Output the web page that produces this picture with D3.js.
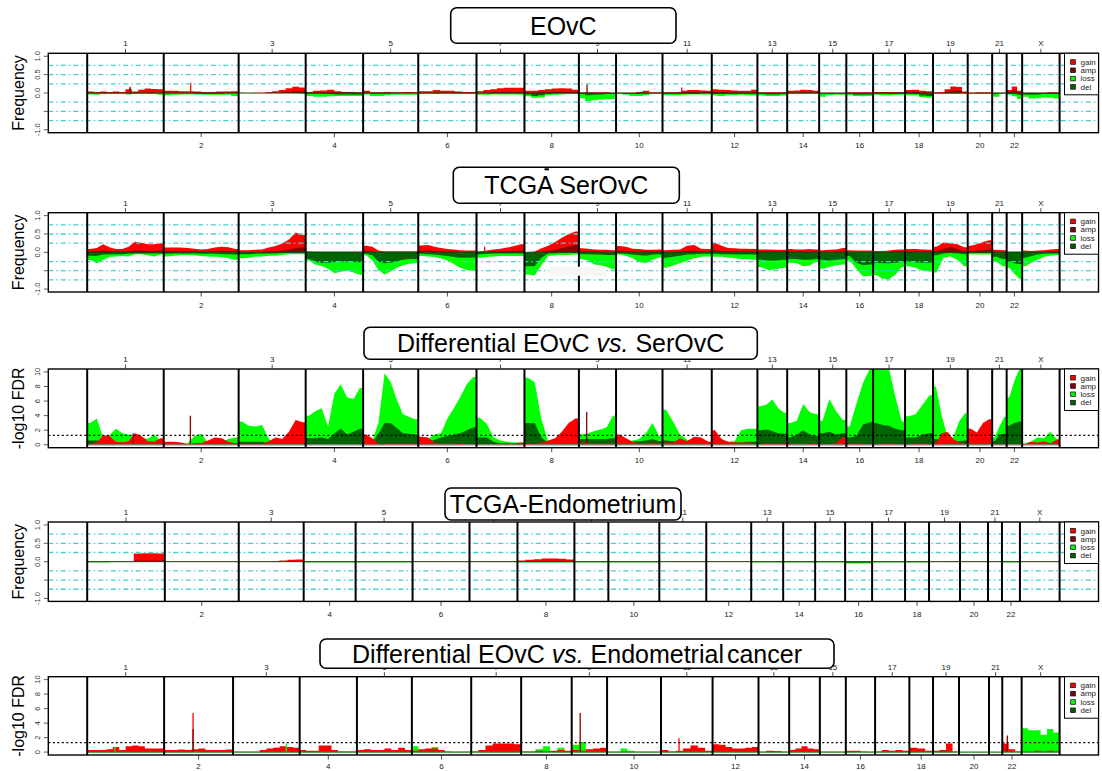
<!DOCTYPE html>
<html>
<head>
<meta charset="utf-8">
<script src="https://cdn.jsdelivr.net/npm/d3@7"></script>
<style>
body { margin: 0; background: #fff; }
svg { font-family: "Liberation Sans", Arial, Helvetica, sans-serif; }
</style>
</head>
<body>
<svg id="chart" width="1102" height="771"></svg>
<script>
// chromosome names, and relative widths (probe counts) of each chromosome in the three layouts
const chromNames = ["1","2","3","4","5","6","7","8","9","10","11","12","13","14","15","16","17","18","19","20","21","22","X"];
const sizesSer = [766,750,671,575,552,583,480,545,372,465,493,457,298,320,272,268,320,280,347,245,145,155,375];
const sizesEndo = [777,740,650,520,570,570,480,570,340,510,470,450,320,320,300,270,330,240,310,280,140,180,397];
const sizesDiffEndo = [770,690,667,573,550,594,500,506,354,540,516,460,307,307,260,293,343,237,260,300,133,194,380];

// EOvC frequencies (percent), one array per chromosome
const eovcGain = [[4,3,4,3,4,3,10,4,9,12,11,10],[6,6,5,5,4,3,3,4,4,5],[1,0,1,1,3,5,8,13,17,15],[3,6,7,9,5,3,3,2],[6,2,2,3,2,2,3,2],[5,5,8,6,6,4,3,3],[5,8,10,13,14,14,14],[6,6,8,10,12,13,12,9],[2,2,2,2,2,1],[1,1,1,3,6,2,2],[2,2,3,6,8,8,7,6],[10,9,8,7,6,6,9],[2,2,2,2],[6,7,9,8,6],[1,1,1,1],[2,2,2,2],[3,3,3,3,3],[8,9,6,5],[2,3,10,18,16,4],[1,2,2],[1,1],[8,18,6],[1,1,1,1,2,2]];
const eovcAmp = [[1],[1],[0,0,0,0,0,0,1,2,5,4],[1],[1],[1],[1,1,2,3,3,3,3],[1,1,2,2,3,3,3,2],[0],[0],[1,1,1,2,3,3,2,2],[2],[0],[1,1,2,2,1],[0],[0],[1],[2,3,1,1],[0,0,3,7,6,0],[0],[0],[3,7,2],[0]];
const eovcLoss = [[4,5,3,2,3,2,4,3,2,2,3,5],[6,5,4,4,4,5,5,5,5,8],[1,1,1,1,1,1,1,1,1,2],[8,10,10,9,8,8,8,8],[4,8,8,6,5,5,5,5],[3,2,3,2,2,3,3,2],[5,5,4,4,4,4,5],[9,13,12,6,5,4,3,3],[14,22,20,18,17,16],[3,5,8,8,6,3,2],[6,6,6,5,4,4,4,4],[7,8,6,6,5,6,7],[7,8,8,7],[3,2,2,2,2],[10,6,5,5],[6,8,9,8],[5,6,6,5,5],[6,6,11,13],[2,2,2,2,2,2],[3,3,3],[10,3],[5,9,16],[10,15,14,12,13,15]];
const eovcDel = [[1,1,1,1,1,1,2,1,1,1,1,1],[1,1,1,1,2,2,2,2,1,1],[0],[2,2,2,3,4,4,4,4],[1,2,2,2,1,1,1,1],[1],[1],[4,8,6,2,1,1,1,1],[3,6,5,4,3,3],[1,2,3,3,2,1,1],[2,2,2,2,2,2,1,1],[3,3,2,2,2,2,2],[3,4,4,3],[1],[2,2,2,2],[3,5,5,4],[2,2,2,2,2],[2,3,7,8],[1],[1],[2,1],[2,3,5],[4,5,4,3,3,3]];
// narrow peaks: [chromosome, position within chromosome, series, value]
const eovcSpikes = [["1",0.56,"gain",17],["1",0.56,"amp",14],["2",0.36,"gain",28],["9",0.22,"amp",23],["11",0.39,"gain",15]];

// TCGA SerOvC frequencies (percent)
const serGain = [[9,12,22,14,9,9,15,29,26,22,22,25],[13,13,13,12,10,8,9,13,15,14,9],[6,6,7,8,13,17,24,35,54,47],[3,2,2,2,2,2,2,2,2],[18,15,5,3,3,3,3,3,3],[19,20,15,12,9,8,6,5,5],[3,5,8,10,13,17,22],[1,2,11,18,28,40,50,57],[11,10,8,7,7,6],[17,15,10,9,7,7,8],[6,7,8,18,20,10,9],[26,18,12,11,10,10,9],[8,8,7,7],[9,8,8,9,8],[6,7,8,12],[6,5,5,5],[4,4,5,7,8],[9,9,8,7],[15,27,25,22,14],[18,22,28,33],[7,6],[2,2,2],[5,4,5,6,8,9]];
const serAmp = [[2,3,5,3,2,2,3,5,5,4,4,5],[3,3,3,3,3,2,2,3,4,4,3],[1,1,1,1,2,3,5,8,12,14],[1],[4,3,1,1,1,1,1,1,1],[4,5,4,3,2,2,1,1,1],[1,1,2,2,3,4,5],[0,0,2,4,7,12,16,20],[2,2,2,1,1,1],[4,3,2,2,2,2,2],[1,1,2,4,5,2,2],[6,4,3,3,2,2,2],[2],[2],[1,1,2,3],[1],[1,1,1,2,2],[2],[3,10,14,10,3],[3,5,6,8],[1],[0],[1,1,1,1,2,2]];
const serLoss = [[21,30,20,13,11,10,11,5,5,8,11,6],[11,9,7,7,8,10,11,12,13,16,20],[16,15,12,11,9,9,7,5,5,5],[22,33,37,45,57,53,50,55,61],[8,22,48,60,52,42,35,31,30],[10,11,13,16,22,32,42,48,50],[15,13,11,10,10,10,10],[60,63,35,10,8,7,7,6],[18,22,33,35,40,46],[6,9,16,26,30,20,14],[42,36,30,22,16,12,11],[12,12,14,16,18,18,20],[40,48,46,42],[28,30,38,36,26],[45,40,35,33],[22,45,66,64],[62,72,73,60,40],[38,42,50,52],[55,15,11,20,38],[5,6,6,6],[25,38],[42,58,72],[38,28,20,12,9,7]];
const serDel = [[9,10,6,5,5,5,4,3,3,3,3,3],[4,3,3,3,3,4,4,4,5,5,6],[5,5,4,4,3,3,2,2,2,2],[18,25,28,28,26,25,25,26,27],[4,8,25,30,28,24,20,18,18],[4,5,6,8,10,13,15,15,14],[5,4,3,3,3,3,3],[38,38,15,3,3,2,2,2],[5,5,6,6,7,7],[3,4,6,8,9,6,5],[15,12,9,6,5,4,4],[4,5,5,6,6,6,6],[20,22,22,20],[18,18,20,20,18],[20,22,20,18],[10,28,35,33],[28,30,30,28,26],[25,27,28,28],[8,3,2,3,5],[2,2,2,2],[12,18],[25,30,32],[15,10,6,4,3,3]];
const serSpikes = [["7",0.17,"gain",15]];

// Differential EOvC vs SerOvC (-log10 FDR)
const diffSerGain = [[0.1,0.3,1.3,1.2,0.4,0.3,0.5,1.6,1.2,0.5,0.4,0.9],[0.4,0.4,0.3,0.1,0.1,0.2,0.6,1.0,0.9,0.4,0.2],[0.1,0.1,0.1,0.1,0.5,1.0,0.8,1.8,3.4,3.1],[0,0,0,0,0,0,0,0,0.1],[1.4,0.9,0.1,0.1,0.1,0.1,0.1,0.1,0.1],[1.1,1.0,0.3,0.2,0.2,0.2,0.1,0.1,0.1],[0.05,0.05,0.05,0.1,0.1,0.2,0.3],[0.1,0.1,0.3,0.6,0.9,1.8,3.0,3.6],[0.3,0.2,0.2,0.2,0.2,0.2],[1.4,0.9,0.4,0.2,0.2,0.3,0.2],[0.3,0.3,0.9,0.5,1.1,1.0,0.4],[2.0,0.8,0.4,0.3,0.3,0.3,0.2],[0.1],[0.1,0.2,0.2,0.1,0.1],[0.1,0.1,0.2,1.0],[0.1],[0.1],[0.1],[0.2,1.6,1.8,0.8,0.3,0.2],[2.2,1.7,3.0,3.5],[0.1],[0.1],[0.1,0.4,0.3,0.5,0.2,0.7]];
const diffSerLoss = [[3.0,3.6,1.0,1.3,2.2,1.6,1.4,1.2,1.0,0.8,1.4,0.6],[0.1,0.1,0.1,0.2,1.2,1.5,0.3,0.2,0.3,0.8,1.0],[3.2,2.6,2.5,2.7,0.8,0.3,0.3,0.3,0.3,0.3],[4.0,4.6,5.0,2.5,7.0,8.3,6.5,6.3,7.8],[0.5,0.6,3.0,9.8,8.6,6.2,4.2,3.8,3.5],[0.5,0.8,1.4,1.6,3.6,5.0,6.6,8.3,9.3],[3.7,2.9,1.0,0.6,0.4,0.3,0.3],[9.2,8.6,3.5,0.4,0.2,0.2,0.3,0.3],[1.4,1.6,1.9,2.1,2.4,4.0],[0.2,0.4,0.6,0.8,1.6,3.0,1.2],[4.8,3.2,1.4,0.7,0.5,0.4,0.4],[0.3,0.3,0.4,0.5,2.0,2.2,2.2],[5.3,5.5,6.2,5.0,4.4],[3.0,3.3,5.6,4.5,4.2],[3.3,6.3,4.6,3.4],[2.5,5.6,8.5,10.4],[10.4,10.4,10.4,6.5,3.2],[3.9,4.2,5.5,6.8],[8.0,4.0,1.2,1.0,3.2,4.3],[0.1],[1.0,2.5,3.8],[6.5,8.8,10.4],[0.2,0.5,1.0,0.9,1.8,0.8]];
const diffSerDel = [[0.6,0.6,0.3,0.3,0.3,0.3,0.3,0.3,0.3,0.2,0.3,0.2],[0.1,0.1,0.1,0.1,0.2,0.2,0.1,0.1,0.1,0.2,0.2],[0.4,0.4,0.4,0.4,0.2,0.1,0.1,0.2,0.2,0.2],[0.9,0.9,1.0,0.8,1.6,2.2,1.4,1.8,2.2],[0.2,0.3,1.5,3.0,3.0,2.3,1.6,1.5,1.4],[0.3,0.3,0.7,1.0,1.2,1.4,1.6,2.0,2.4],[1.0,1.0,0.4,0.2,0.2,0.1,0.1],[3.0,3.0,1.0,0.2,0.2,0.2,0.2,0.2],[0.8,0.8,0.8,0.8,0.8,0.9],[0.3,0.3,0.4,0.5,0.6,0.8,0.5],[0.6,0.5,0.4,0.3,0.3,0.3,0.3],[0.2,0.2,0.3,0.3,0.3,0.4,0.4],[2.0,2.1,1.9,1.6,1.5],[1.0,1.4,2.0,1.4,1.2],[1.6,1.8,1.4,1.6],[1.0,1.2,2.8,3.1],[3.0,2.7,2.6,2.2,2.0],[1.0,1.0,1.4,1.6],[0.8,0.5,0.4,0.4,0.5,0.6],[0.1],[0.5,1.4,1.5],[2.6,3.0,3.2],[0.1]];
const diffSerSpikes = [["1",0.6,"amp",1.6],["2",0.356,"amp",4.0],["9",0.21,"amp",4.5]];

// TCGA Endometrium frequencies (percent)
const endoGain = [[1,1,1,1,1,1,22,23,23,22],[1],[1,1,1,1,2,3,5,6],[1],[1],[1],[1,1,2,2,2,2,2],[3,5,7,9,9,8,6],[1],[1],[1,1,2,2,2,2,2],[1],[1],[1],[1],[1],[1],[1],[1,1,2,2],[1],[1],[1],[1]];
const endoAmp = [[0,0,0,0,0,0,3,3,3,3],[0],[0],[0],[0],[0],[0],[0,1,1,2,2,1,1],[0],[0],[0],[0],[0],[0],[0],[0],[0],[0],[0],[0],[0],[0],[0]];
const endoLoss = [[2,2,2,1,1,1,1,1,1,1],[1],[1],[2],[2],[1],[1],[2],[2],[2],[1],[1],[2],[2],[2],[5,5,5],[2],[2],[1],[1],[1],[2],[1]];
const endoDel = [[1],[0],[0],[1],[1],[0],[0],[1],[1],[1],[0],[0],[1],[1],[1],[2],[1],[1],[0],[0],[0],[1],[0]];

// Differential EOvC vs Endometrial cancer (-log10 FDR)
const diffEndoGain = [[0.3,0.3,0.3,0.4,0.7,0.3,0.8,0.9,0.8,0.5,0.5,0.5],[0.3,0.3,0.35,0.3,0.4,0.5,0.3,0.3,0.3,0.35],[0.05,0.05,0.05,0.05,0.3,0.5,0.6,0.8,0.7,0.6],[0.3,0.2,0.2,0.9,0.9,0.3,0.1,0.1,0.1],[0.3,0.4,0.3,0.3,0.5,0.3,0.6,0.3],[0.2,0.4,0.5,0.5,0.3,0.1,0.05,0.05,0.05],[0.1,0.3,0.9,1.2,1.2,1.2,1.1],[0.1,0.1,0.2,0.1,0.2,0.3,0.2],[0.3,0.2,0.4,0.5,0.6],[0.05],[0.3,0.1,0.2,0.5,0.9,0.6,0.2],[1.1,1.0,0.7,0.5,0.5,0.6,0.7],[0.05,0.2,0.15,0.05],[0.3,0.5,0.8,0.5,0.4],[0.05],[0.2,0.2,0.1,0.05],[0.1,0.3,0.2,0.3,0.2],[0.6,0.5,0.2],[0.2,0.3,1.2,0.1],[0.02],[0.02],[1.2,0.4,0.1],[0.05,0.05,0.2,0.1,0.2,0.1]];
const diffEndoLoss = [[0],[0],[0],[0],[0],[0.8,0.3,0.2,0.7,0.1,0,0,0,0],[0],[0,0,0.4,0.8,0.1,0.6,0.1],[1.0,1.4,0.1,0,0],[0,0,0.5,0.2,0,0,0,0],[0],[0],[0],[0],[0],[0],[0],[0],[0],[0],[0],[0],[3.3,3.0,3.0,2.4,3.2,2.7]];
const diffEndoSpikes = [["1",0.36,"loss",0.7],["2",0.42,"gain",5.4],["2",0.42,"amp",3.2],["3",0.8,"loss",1.2],["9",0.24,"amp",5.4],["11",0.35,"gain",1.9],["22",0.26,"amp",2.3]];

const freqTicks = [-1, -0.5, 0, 0.5, 1];
const freqTickLabels = {"1": "1.0", "0.5": "0.5", "0": "0.0", "-1": "-1.0"};
const fdrTicks = [0, 2, 4, 6, 8, 10];
const fdrCutoff = 1.3;
const legendKeys = ["gain", "amp", "loss", "del"];

const colors = { gain: "#ff0000", amp: "#8b0000", loss: "#00ff00", del: "#006400" };
const svg = d3.select("#chart");
const X0 = 48.3, X1 = 1098.5;

function drawPanel(p) {
  const total = d3.sum(p.sizes);
  const pad = total * 0.04;
  const x = d3.scaleLinear().domain([-pad, total + pad]).range([X0, X1]);
  const y = d3.scaleLinear().domain(p.ydomain).range([p.bottom, p.top]);
  const starts = [0].concat(Array.from(d3.cumsum(p.sizes)));
  const g = svg.append("g");

  g.append("clipPath").attr("id", p.id + "clip")
    .append("rect").attr("x", X0).attr("y", p.top).attr("width", X1 - X0).attr("height", p.bottom - p.top);
  const dg = g.append("g").attr("clip-path", "url(#" + p.id + "clip)");

  // profiles
  p.series.forEach(s => {
    const curve = s.linear ? d3.curveLinear : d3.curveStepAfter;
    const area = d3.area()
      .x(d => x(d[0]))
      .y0(y(0))
      .y1(d => y(s.sign * d[1] * p.unit))
      .curve(curve);
    s.values.forEach((vals, c) => {
      const x0 = starts[c], w = p.sizes[c], n = vals.length;
      let pts;
      if (s.linear && n > 1) {
        pts = [[x0, vals[0]]].concat(vals.map((v, i) => [x0 + w * (i + 0.5) / n, v]), [[x0 + w, vals[n - 1]]]);
      } else {
        pts = vals.map((v, i) => [x0 + w * i / n, v]).concat([[x0 + w, vals[n - 1]]]);
      }
      dg.append("path").attr("d", area(pts)).attr("fill", colors[s.key]);
    });
  });

  // narrow peaks
  p.spikes.forEach(sp => {
    const c = chromNames.indexOf(sp[0]);
    const sign = p.unit < 1 && (sp[2] === "loss" || sp[2] === "del") ? -1 : 1;
    const xx = x(starts[c] + p.sizes[c] * sp[1]);
    dg.append("line")
      .attr("x1", xx).attr("x2", xx)
      .attr("y1", y(0)).attr("y2", y(sign * sp[3] * p.unit))
      .attr("stroke", colors[sp[2]]).attr("stroke-width", 1.3);
  });

  // zero line
  g.append("line")
    .attr("x1", x(0)).attr("x2", x(total))
    .attr("y1", y(0)).attr("y2", y(0))
    .attr("stroke", p.baseColor).attr("stroke-width", p.baseWidth);

  // reference lines
  if (p.freq) {
    [0.75, 0.5, 0.25, -0.25, -0.5, -0.75].forEach(v => {
      g.append("line")
        .attr("x1", X0).attr("x2", X1).attr("y1", y(v)).attr("y2", y(v))
        .attr("stroke", "#40d0d0").attr("stroke-width", 1.3)
        .attr("stroke-dasharray", "5,3,1.5,3");
    });
  } else {
    g.append("line")
      .attr("x1", X0).attr("x2", X1).attr("y1", y(fdrCutoff)).attr("y2", y(fdrCutoff))
      .attr("stroke", "#000").attr("stroke-width", 1.2)
      .attr("stroke-dasharray", "2,2.5");
  }

  // chromosome boundaries
  starts.forEach(s => {
    g.append("line")
      .attr("x1", x(s)).attr("x2", x(s)).attr("y1", p.top).attr("y2", p.bottom)
      .attr("stroke", "#000").attr("stroke-width", 2);
  });

  if (p.extra) p.extra(g, x, y);

  // frame
  g.append("rect")
    .attr("x", X0).attr("y", p.top).attr("width", X1 - X0).attr("height", p.bottom - p.top)
    .attr("fill", "none").attr("stroke", "#000").attr("stroke-width", 1.4);

  // y axis
  const ticks = p.freq ? freqTicks : fdrTicks;
  ticks.forEach(t => {
    g.append("line").attr("x1", 43.8).attr("x2", X0).attr("y1", y(t)).attr("y2", y(t))
      .attr("stroke", "#333").attr("stroke-width", 0.8);
    const lab = p.freq ? freqTickLabels[String(t)] : String(t);
    if (lab !== undefined) {
      g.append("text")
        .attr("transform", "translate(40," + y(t) + ") rotate(-90)")
        .attr("text-anchor", "middle").attr("font-size", 7.5).attr("fill", "#333")
        .text(lab);
    }
  });
  g.append("text")
    .attr("transform", "translate(24," + ((p.top + p.bottom) / 2) + ") rotate(-90)")
    .attr("text-anchor", "middle").attr("font-size", 16).attr("fill", "#000")
    .text(p.ylabel);

  // chromosome labels, odd on top, even below
  const below = p.belowGap || 15.6;
  chromNames.forEach((name, c) => {
    const xc = x(starts[c] + p.sizes[c] / 2);
    const topSide = c % 2 === 0;
    g.append("line").attr("x1", xc).attr("x2", xc)
      .attr("y1", topSide ? p.top - 4.5 : p.bottom).attr("y2", topSide ? p.top : p.bottom + 4.5)
      .attr("stroke", "#222").attr("stroke-width", 0.8);
    g.append("text")
      .attr("x", xc).attr("y", topSide ? p.top - 7 : p.bottom + below)
      .attr("text-anchor", "middle").attr("font-size", 8).attr("fill", "#222")
      .text(name);
  });

  // legend
  const lg = g.append("g").attr("transform", "translate(1064.5," + p.top + ")");
  lg.append("rect").attr("width", X1 - 1064.5).attr("height", 41.5)
    .attr("fill", "#fff").attr("stroke", "#000").attr("stroke-width", 1);
  legendKeys.forEach((k, i) => {
    const yy = 8.7 + i * 8.3;
    lg.append("rect").attr("x", 6.2).attr("y", yy - 2.3).attr("width", 4.6).attr("height", 4.6)
      .attr("fill", colors[k]).attr("stroke", "#000").attr("stroke-width", 0.7);
    lg.append("text").attr("x", 16).attr("y", yy + 2.8).attr("font-size", 8).attr("fill", "#222").text(k);
  });

  // title box
  const tb = p.titleBox;
  g.append("rect").attr("x", tb[0]).attr("y", tb[1]).attr("width", tb[2] - tb[0]).attr("height", tb[3] - tb[1])
    .attr("rx", 6).attr("fill", "#fff").attr("stroke", "#000").attr("stroke-width", 1.6);
  const tt = g.append("text").attr("x", (tb[0] + tb[2]) / 2).attr("y", (tb[1] + tb[3]) / 2 + 9)
    .attr("text-anchor", "middle").attr("font-size", 25).attr("fill", "#000");
  p.title.forEach(part => {
    const ts = tt.append("tspan").text(part.t);
    if (part.italic) ts.attr("font-style", "italic");
    if (part.dx) ts.attr("dx", part.dx);
  });
}

drawPanel({
  id: "p1", top: 53.3, bottom: 132.7, freq: true, unit: 0.01, ydomain: [-1.08, 1.08],
  sizes: sizesSer, ylabel: "Frequency", baseColor: "#1a3a1a", baseWidth: 0.9,
  titleBox: [450.7, 7.7, 676, 43.3], title: [{ t: "EOvC" }],
  series: [
    { key: "gain", sign: 1, values: eovcGain }, { key: "amp", sign: 1, values: eovcAmp },
    { key: "loss", sign: -1, values: eovcLoss }, { key: "del", sign: -1, values: eovcDel }],
  spikes: eovcSpikes
});

drawPanel({
  id: "p2", top: 212.7, bottom: 292, freq: true, unit: 0.01, ydomain: [-1.08, 1.08],
  sizes: sizesSer, ylabel: "Frequency", baseColor: "#1a3a1a", baseWidth: 0.9,
  titleBox: [453.3, 167.3, 679.3, 203.3], title: [{ t: "TCGA SerOvC" }],
  series: [
    { key: "gain", sign: 1, values: serGain, linear: true }, { key: "amp", sign: 1, values: serAmp, linear: true },
    { key: "loss", sign: -1, values: serLoss, linear: true }, { key: "del", sign: -1, values: serDel, linear: true }],
  spikes: serSpikes,
  extra: (g) => {
    g.append("rect").attr("x", 549).attr("y", 266.7).attr("width", 57.7).attr("height", 9)
      .attr("fill", "#f6f6f6");
  }
});
svg.append("rect").attr("x", 544.5).attr("y", 168.3).attr("width", 4.5).attr("height", 2).attr("fill", "#000");

drawPanel({
  id: "p3", top: 369, bottom: 447.7, freq: false, unit: 1, ydomain: [-0.4, 10.4],
  sizes: sizesSer, ylabel: "-log10 FDR", baseColor: "#888", baseWidth: 1.2,
  titleBox: [364, 327.3, 757.3, 359.3],
  title: [{ t: "Differential EOvC " }, { t: "vs.", italic: true }, { t: " SerOvC" }],
  series: [
    { key: "loss", sign: 1, values: diffSerLoss, linear: true }, { key: "del", sign: 1, values: diffSerDel, linear: true },
    { key: "gain", sign: 1, values: diffSerGain, linear: true }],
  spikes: diffSerSpikes
});

drawPanel({
  id: "p4", top: 522, bottom: 601.4, freq: true, unit: 0.01, ydomain: [-1.08, 1.08],
  sizes: sizesEndo, ylabel: "Frequency", baseColor: "#1a3a1a", baseWidth: 0.9,
  titleBox: [445, 488, 681, 520], title: [{ t: "TCGA-Endometrium" }],
  series: [
    { key: "gain", sign: 1, values: endoGain }, { key: "amp", sign: 1, values: endoAmp },
    { key: "loss", sign: -1, values: endoLoss }, { key: "del", sign: -1, values: endoDel }],
  spikes: []
});

drawPanel({
  id: "p5", top: 676.7, bottom: 755, freq: false, unit: 1, ydomain: [-0.4, 10.4],
  sizes: sizesDiffEndo, ylabel: "-log10 FDR", baseColor: "#1c8a1c", baseWidth: 1.2, belowGap: 13.5,
  titleBox: [320, 639, 834, 668.3],
  title: [{ t: "Differential EOvC " }, { t: "vs.", italic: true }, { t: " Endometrial" }, { t: " cancer", dx: -4 }],
  series: [
    { key: "loss", sign: 1, values: diffEndoLoss }, { key: "gain", sign: 1, values: diffEndoGain }],
  spikes: diffEndoSpikes
});
</script>
</body>
</html>
